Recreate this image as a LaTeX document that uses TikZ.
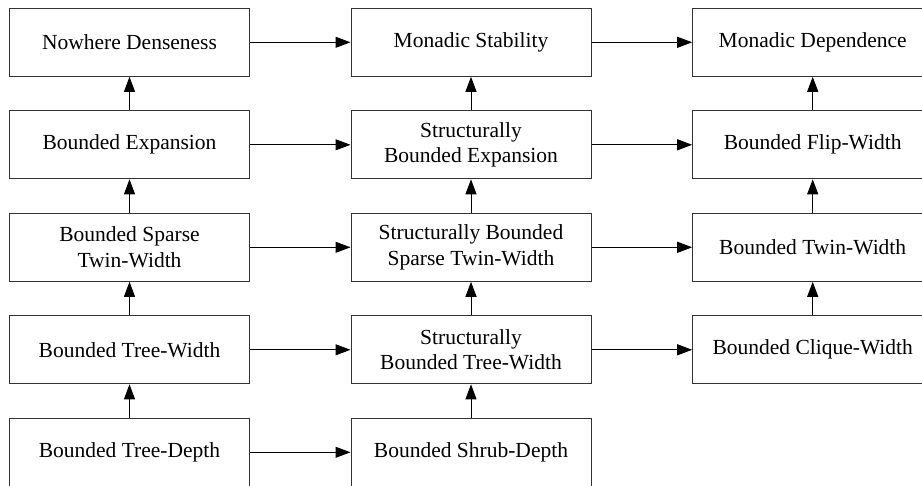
\documentclass[tikz,border=0pt]{standalone}
\usepackage{fontspec}
\setmainfont{Liberation Serif}
\usetikzlibrary{arrows.meta}
\begin{document}
\begin{tikzpicture}[x=1pt,y=-1pt,
  box/.style={draw=black!80, line width=1pt, minimum width=240pt, minimum height=68pt,
    inner sep=0pt, align=center, font=\fontsize{21.5}{25.7}\selectfont},
  arr/.style={line width=1pt, -{Triangle[length=15pt,width=11pt]}, shorten >=0pt}]
\useasboundingbox (0,0) rectangle (922,486);
\fill[white] (0,0) rectangle (922,486);
% column 1
\node[box] (nd)   at (129.5,42.3)  {Nowhere Denseness};
\node[box] (be)   at (129.5,144.8) {Bounded Expansion};
\node[box] (bstw) at (129.5,247.3) {Bounded Sparse\\Twin-Width};
\node[box] (btw)  at (129.5,349.8) {Bounded Tree-Width};
\node[box] (btd)  at (129.5,452.3) {Bounded Tree-Depth};
% column 2
\node[box] (ms)    at (471,42.3)  {Monadic Stability};
\node[box] (sbe)   at (471,144.8) {Structurally\\Bounded Expansion};
\node[box] (sbstw) at (471,247.3) {Structurally Bounded\\Sparse Twin-Width};
\node[box] (sbtw)  at (471,349.8) {Structurally\\Bounded Tree-Width};
\node[box] (bsd)   at (471,452.3) {Bounded Shrub-Depth};
% column 3
\node[box] (md)   at (812.7,42.3)  {Monadic Dependence};
\node[box] (bfw)  at (812.7,144.8) {Bounded Flip-Width};
\node[box] (btww) at (812.7,247.3) {Bounded Twin-Width};
\node[box] (bcw)  at (812.7,349.8) {Bounded Clique-Width};
% horizontal arrows
\draw[arr] (nd) -- (ms);
\draw[arr] (ms) -- (md);
\draw[arr] (be) -- (sbe);
\draw[arr] (sbe) -- (bfw);
\draw[arr] (bstw) -- (sbstw);
\draw[arr] (sbstw) -- (btww);
\draw[arr] (btw) -- (sbtw);
\draw[arr] (sbtw) -- (bcw);
\draw[arr] (btd) -- (bsd);
% vertical arrows
\draw[arr] (be) -- (nd);
\draw[arr] (bstw) -- (be);
\draw[arr] (btw) -- (bstw);
\draw[arr] (btd) -- (btw);
\draw[arr] (sbe) -- (ms);
\draw[arr] (sbstw) -- (sbe);
\draw[arr] (sbtw) -- (sbstw);
\draw[arr] (bsd) -- (sbtw);
\draw[arr] (bfw) -- (md);
\draw[arr] (btww) -- (bfw);
\draw[arr] (bcw) -- (btww);
\end{tikzpicture}
\end{document}
